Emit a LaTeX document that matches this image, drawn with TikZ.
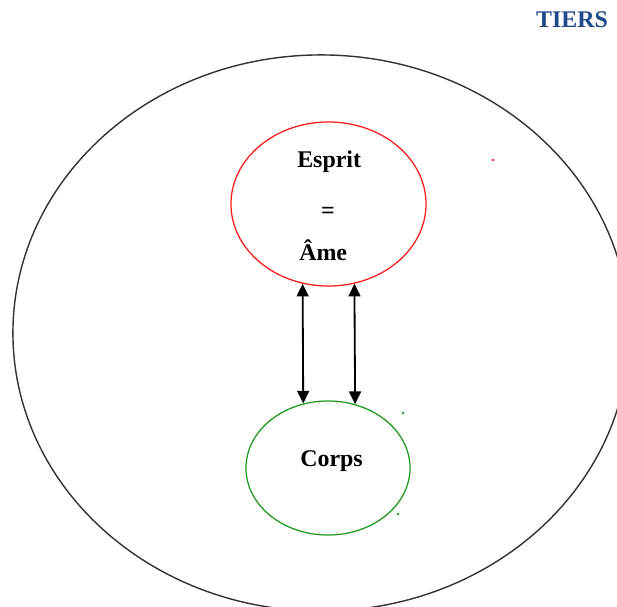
\documentclass[tikz,border=0pt]{standalone}
\usepackage{fontspec}
\setmainfont{Liberation Serif}
\usetikzlibrary{positioning,shapes.geometric,arrows.meta}
\usepackage{xcolor}
\definecolor{tiersblue}{HTML}{1F4A8A}
\definecolor{corpsgreen}{HTML}{1E9A1E}
\definecolor{espritred}{HTML}{FF1A1A}

\begin{document}
\begin{tikzpicture}[
    x=0.025cm, y=-0.025cm,
    zone/.style={
        draw,
        ellipse,
        line width=0.9pt,
        inner sep=0pt,
    },
    word/.style={
        font=\fontsize{17}{20}\selectfont\bfseries,
        inner sep=0pt,
    },
    link/.style={
        {Triangle[length=9pt,width=8.5pt]}-{Triangle[length=9pt,width=8.5pt]},
        line width=1.3pt,
    },
    speck/.style={circle, inner sep=0pt, minimum size=2pt},
]
\useasboundingbox (0,0) rectangle (617,606);

\node[zone, draw=black!80, line width=1pt, minimum width=15.4cm, minimum height=13.9cm] (monde) at (321, 333) {};
\node[zone, draw=espritred, minimum width=4.875cm, minimum height=4.1cm] (esprit) at (328.5, 204) {};
\node[zone, draw=corpsgreen, minimum width=4.1cm, minimum height=3.35cm] (corps) at (328, 468) {};

\node[word, anchor=base west] (mot1) at (297, 167) {Esprit};
\node[word, anchor=base] (egal) at (328, 218) {=};
\node[word, anchor=base west] (mot2) at (299, 260) {Âme};
\node[word, anchor=base] (mot3) at (331.5, 466) {Corps};
\node[word, anchor=base, text=tiersblue] (tiers) at (572, 27) {TIERS};

\draw[link] (esprit.-108) -- (corps.111);
\draw[link] (esprit.-72) -- (corps.67);

\node[speck, fill=espritred] (p1) at (493, 160) {};
\node[speck, fill=corpsgreen] (p2) at (403, 413) {};
\node[speck, fill=corpsgreen] (p3) at (398, 514) {};

\end{tikzpicture}
\end{document}
